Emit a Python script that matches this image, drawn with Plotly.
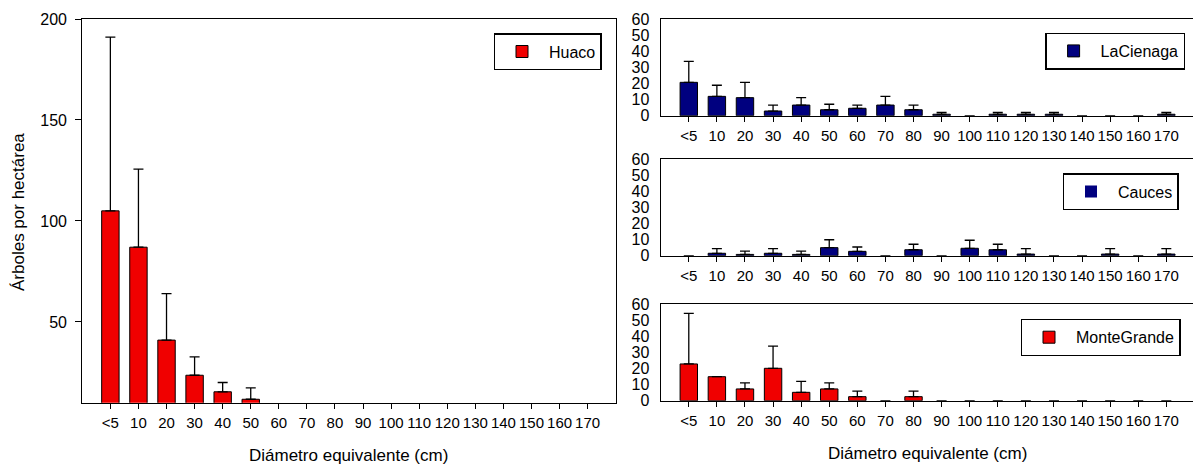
import plotly.graph_objects as go

categories = ["<5", "10", "20", "30", "40", "50", "60", "70", "80", "90",
              "100", "110", "120", "130", "140", "150", "160", "170"]

huaco_mean = [105, 87, 41, 23.6, 15.4, 11.7, 0, 0, 0, 0, 0, 0, 0, 0, 0, 0, 0, 0]
huaco_err = [86, 38.7, 23, 9.1, 4.6, 5.6, None, None, None, None, None, None,
             None, None, None, None, None, None]

cienaga_mean = [20.7, 12.0, 11.2, 2.9, 6.6, 3.7, 4.6, 6.6, 3.7, 0.9, 0, 0.9,
                0.9, 0.9, 0, 0, 0, 0.9]
cienaga_err = [13.0, 6.9, 9.5, 3.7, 4.6, 3.4, 1.9, 5.4, 2.9, 1.2, None, 1.2,
               1.2, 1.2, None, None, None, 1.2]

cauces_mean = [0, 1.5, 0.8, 1.5, 0.8, 5.0, 2.7, 0, 3.7, 0, 4.6, 3.7, 1.0, 0,
               0, 1.0, 0, 1.0]
cauces_err = [None, 2.9, 2.1, 2.9, 2.1, 4.9, 2.7, None, 3.4, None, 5.0, 3.4,
              3.4, None, None, 3.4, None, 3.4]

monte_mean = [22.8, 14.9, 7.3, 20.1, 5.2, 7.3, 2.5, 0, 2.5, 0, 0, 0, 0, 0, 0,
              0, 0, 0]
monte_err = [31.4, None, 3.7, 13.8, 6.8, 3.7, 3.5, None, 3.5, None, None, None,
             None, None, None, None, None, None]

RED = "#f00000"
NAVY = "#00007f"
FONT = "Arial, 'Liberation Sans', sans-serif"
W, H = 1193, 465


def bar(name, vals, errs, color, xa, ya, legend):
    return go.Bar(
        x=categories, y=vals, name=name, xaxis=xa, yaxis=ya, legend=legend,
        width=0.62,
        marker=dict(color=color,
                    line=dict(color="black", width=[1 if v > 0 else 0 for v in vals])),
        error_y=dict(type="data", symmetric=False, array=errs,
                     arrayminus=[0 if e is not None else None for e in errs],
                     color="black", thickness=1.3, width=5),
        showlegend=True,
    )


fig = go.Figure()
fig.add_trace(bar("Huaco", huaco_mean, huaco_err, RED, "x", "y", "legend"))
fig.add_trace(bar("LaCienaga", cienaga_mean, cienaga_err, NAVY, "x2", "y2", "legend2"))
fig.add_trace(bar("Cauces", cauces_mean, cauces_err, NAVY, "x3", "y3", "legend3"))
fig.add_trace(bar("MonteGrande", monte_mean, monte_err, RED, "x4", "y4", "legend4"))


def px_x(v):
    return v / W


def px_y(v):
    return 1 - v / H


xcommon = dict(type="category", categoryorder="array", categoryarray=categories,
               showline=True, linecolor="black", linewidth=1.3, mirror=True,
               ticks="outside", ticklen=5, tickcolor="black", tickwidth=1.3,
               showgrid=False, zeroline=False, fixedrange=True, automargin=False,
               ticklabelstandoff=1,
               tickfont=dict(family=FONT, size=15, color="black"))
ycommon = dict(showline=True, linecolor="black", linewidth=1.3, mirror=True,
               showgrid=False, zeroline=False, fixedrange=True, automargin=False,
               tickfont=dict(family=FONT, size=16, color="black"))

layout = dict(
    width=W, height=H, margin=dict(l=0, r=0, t=0, b=0, autoexpand=False),
    paper_bgcolor="white", plot_bgcolor="white",
    font=dict(family=FONT, color="black"),
    barmode="overlay",
    xaxis=dict(xcommon, domain=[px_x(82.3), px_x(615.7)], range=[-1, 18], anchor="y"),
    yaxis=dict(ycommon, domain=[px_y(402.7), px_y(19)], range=[10, 200],
               tickvals=[50, 100, 150, 200], ticks="outside", ticklen=6,
               tickwidth=1.3, tickcolor="black", ticklabelstandoff=5, anchor="x"),
    xaxis2=dict(xcommon, domain=[px_x(660.7), 1.0], range=[-1, 17.95], anchor="y2"),
    yaxis2=dict(ycommon, domain=[px_y(115.7), px_y(19)], range=[0, 60], dtick=10,
                ticks="", ticklabelstandoff=7, anchor="x2"),
    xaxis3=dict(xcommon, domain=[px_x(660.7), 1.0], range=[-1, 17.95], anchor="y3"),
    yaxis3=dict(ycommon, domain=[px_y(255.7), px_y(159)], range=[0, 60], dtick=10,
                ticks="", ticklabelstandoff=7, anchor="x3"),
    xaxis4=dict(xcommon, domain=[px_x(660.7), 1.0], range=[-1, 17.95], anchor="y4"),
    yaxis4=dict(ycommon, domain=[px_y(400.7), px_y(304)], range=[0, 60], dtick=10,
                ticks="", ticklabelstandoff=7, anchor="x4"),
)

legend_style = dict(bgcolor="white", bordercolor="black", borderwidth=1.3,
                    font=dict(family=FONT, size=16, color="black"),
                    itemwidth=44, xanchor="right", yanchor="top")
layout["legend"] = dict(legend_style, x=px_x(601.7), y=px_y(33.3))
layout["legend2"] = dict(legend_style, x=px_x(1185.3), y=px_y(32.7))
layout["legend3"] = dict(legend_style, x=px_x(1178.7), y=px_y(173.3))
layout["legend4"] = dict(legend_style, x=px_x(1180.7), y=px_y(319))

title_font = dict(family=FONT, size=17, color="black")
layout["annotations"] = [
    dict(text="Diámetro equivalente (cm)", xref="paper", yref="paper",
         x=px_x(348.8), y=px_y(455), xanchor="center", yanchor="middle",
         showarrow=False, font=title_font),
    dict(text="Diámetro equivalente (cm)", xref="paper", yref="paper",
         x=px_x(927), y=px_y(453), xanchor="center", yanchor="middle",
         showarrow=False, font=title_font),
    dict(text="Árboles por hectárea", xref="paper", yref="paper",
         x=px_x(18), y=px_y(212), xanchor="center", yanchor="middle",
         textangle=-90, showarrow=False, font=title_font),
]

fig.update_layout(layout)
fig.write_html("out.html",
               config={"displayModeBar": False},
               post_script="document.body.style.margin='0px';"
                           "document.body.style.overflow='hidden';")
